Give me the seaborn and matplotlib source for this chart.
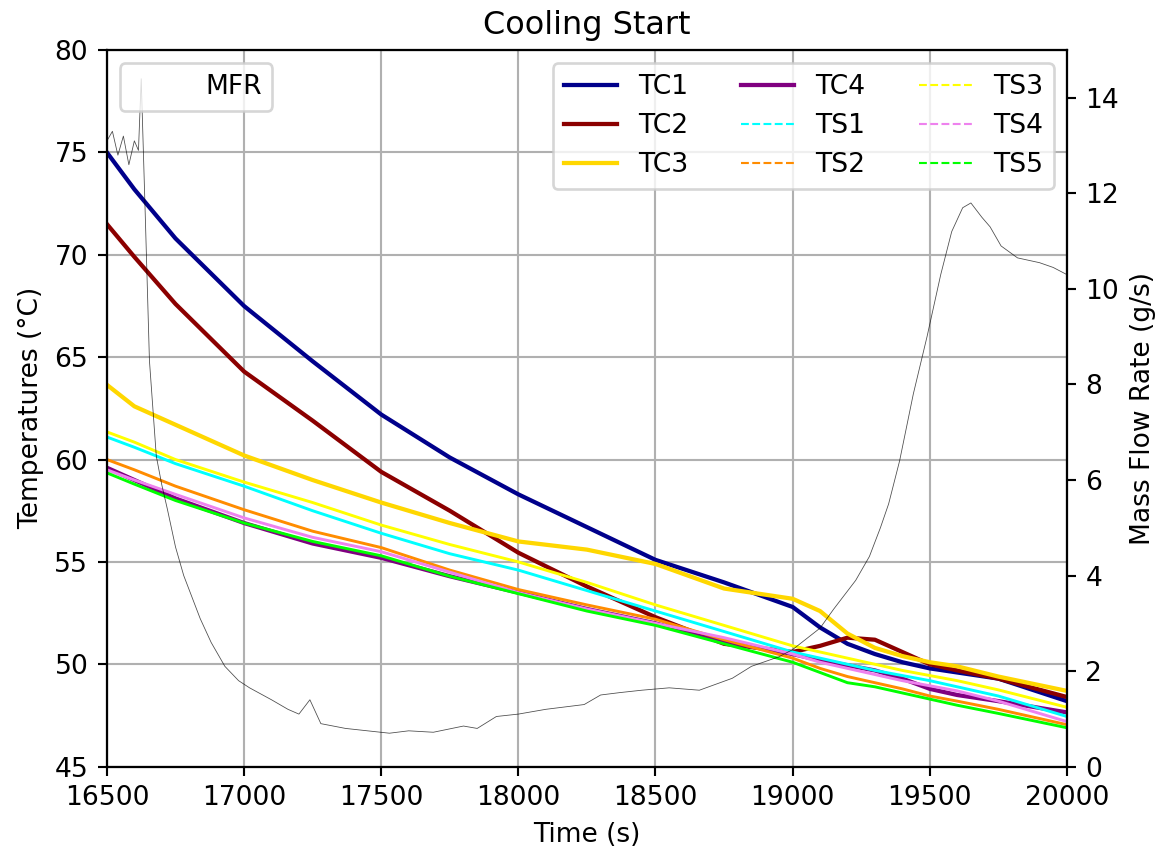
import matplotlib
matplotlib.use('Agg')
import matplotlib.pyplot as plt
import seaborn as sns

# time axis (s) for the temperature readings
time_s = [16500, 16600, 16750, 17000, 17250, 17500, 17750, 18000, 18250, 18500,
          18750, 19000, 19100, 19200, 19300, 19400, 19500, 19600, 19750, 20000]

# thermocouples (°C)
tc1 = [75.0, 73.2, 70.8, 67.5, 64.8, 62.2, 60.1, 58.3, 56.7, 55.1,
       54.0, 52.8, 51.8, 51.0, 50.5, 50.1, 49.8, 49.6, 49.3, 48.2]
tc2 = [71.5, 69.9, 67.6, 64.3, 61.9, 59.4, 57.5, 55.45, 53.8, 52.3,
       51.0, 50.6, 50.9, 51.3, 51.2, 50.6, 50.0, 49.7, 49.3, 48.4]
tc3 = [63.65, 62.6, 61.7, 60.2, 59.0, 57.9, 56.9, 56.0, 55.6, 54.9,
       53.7, 53.2, 52.6, 51.5, 50.8, 50.4, 50.1, 49.9, 49.4, 48.7]
tc4 = [59.6, 59.0, 58.1, 56.9, 55.9, 55.2, 54.3, 53.5, 52.7, 52.0,
       51.1, 50.5, 50.2, 49.95, 49.7, 49.3, 48.8, 48.5, 48.2, 47.65]

# surface sensors (°C)
ts1 = [61.1, 60.6, 59.8, 58.7, 57.5, 56.4, 55.4, 54.6, 53.6, 52.6,
       51.6, 50.6, 50.3, 50.0, 49.7, 49.45, 49.2, 48.9, 48.45, 47.45]
ts2 = [60.0, 59.5, 58.7, 57.55, 56.5, 55.7, 54.6, 53.65, 52.9, 52.2,
       51.2, 50.3, 49.8, 49.4, 49.1, 48.8, 48.45, 48.2, 47.8, 47.05]
ts3 = [61.35, 60.85, 60.0, 58.9, 57.9, 56.8, 55.85, 55.0, 54.0, 52.9,
       51.9, 50.9, 50.6, 50.3, 50.0, 49.7, 49.45, 49.2, 48.75, 47.9]
ts4 = [59.5, 59.0, 58.3, 57.15, 56.2, 55.5, 54.5, 53.5, 52.7, 52.0,
       51.3, 50.5, 50.1, 49.8, 49.5, 49.2, 48.95, 48.7, 48.2, 47.2]
ts5 = [59.35, 58.8, 58.0, 56.9, 56.0, 55.3, 54.3, 53.45, 52.6, 51.9,
       51.0, 50.1, 49.6, 49.1, 48.9, 48.6, 48.3, 48.0, 47.6, 46.9]

# mass flow rate (g/s)
time_mfr = [16500, 16520, 16540, 16560, 16580, 16600, 16615, 16625, 16640, 16655,
            16680, 16700, 16720, 16750, 16780, 16840, 16880, 16930, 16980, 17020,
            17100, 17160, 17200, 17240, 17280, 17370, 17450, 17530, 17600, 17690,
            17800, 17850, 17920, 18000, 18100, 18240, 18300, 18370, 18450, 18550,
            18660, 18780, 18850, 18950, 19000, 19100, 19150, 19230, 19280, 19320,
            19350, 19390, 19440, 19490, 19540, 19580, 19620, 19650, 19690, 19720,
            19760, 19820, 19900, 19950, 20000]
mfr = [13.1, 13.3, 12.8, 13.2, 12.6, 13.1, 12.9, 14.4, 11.5, 8.5,
       6.5, 5.9, 5.4, 4.6, 4.0, 3.1, 2.6, 2.1, 1.8, 1.65,
       1.4, 1.2, 1.1, 1.4, 0.9, 0.8, 0.75, 0.7, 0.75, 0.72,
       0.85, 0.8, 1.05, 1.1, 1.2, 1.3, 1.5, 1.55, 1.6, 1.65,
       1.6, 1.85, 2.1, 2.3, 2.45, 2.9, 3.3, 3.9, 4.4, 5.0,
       5.5, 6.4, 7.8, 9.0, 10.3, 11.2, 11.7, 11.8, 11.5, 11.3,
       10.9, 10.65, 10.55, 10.45, 10.3]

tc_series = {'TC1': (tc1, 'darkblue'), 'TC2': (tc2, 'darkred'),
             'TC3': (tc3, 'gold'), 'TC4': (tc4, 'purple')}
ts_series = {'TS1': (ts1, 'cyan'), 'TS2': (ts2, 'darkorange'),
             'TS3': (ts3, 'yellow'), 'TS4': (ts4, 'violet'),
             'TS5': (ts5, 'lime')}

DPI = 191
fig, ax1 = plt.subplots(figsize=(1175 / DPI, 849 / DPI), dpi=DPI)
fig.subplots_adjust(left=0.091, right=0.908, top=0.941, bottom=0.097)

for name, (vals, col) in tc_series.items():
    sns.lineplot(x=time_s, y=vals, ax=ax1, color=col, linewidth=1.6, label=name, legend=False)
for name, (vals, col) in ts_series.items():
    sns.lineplot(x=time_s, y=vals, ax=ax1, color=col, linewidth=1.1, label=name, legend=False)

ax1.set_xlim(16500, 20000)
ax1.set_ylim(45, 80)
ax1.set_xlabel('Time (s)')
ax1.set_ylabel('Temperatures (°C)')
ax1.set_title('Cooling Start', fontsize=12)
ax1.grid(True, color='#b0b0b0', linewidth=0.8)

leg = ax1.legend(loc='upper right', ncol=3)
# the surface sensors show dashed in the legend
for line in leg.get_lines()[4:]:
    line.set_linestyle('--')
    line.set_linewidth(0.8)

ax2 = ax1.twinx()
sns.lineplot(x=time_mfr, y=mfr, ax=ax2, color='black', linewidth=0.3, alpha=0.7,
             label='MFR', legend=False)
ax2.set_ylim(0, 15)
ax2.set_yticks([0, 2, 4, 6, 8, 10, 12, 14])
ax2.set_ylabel('Mass Flow Rate (g/s)')
leg2 = ax2.legend(loc='upper left')
for line in leg2.get_lines():
    line.set_alpha(0.0)

fig.savefig('out.png', dpi=DPI)
